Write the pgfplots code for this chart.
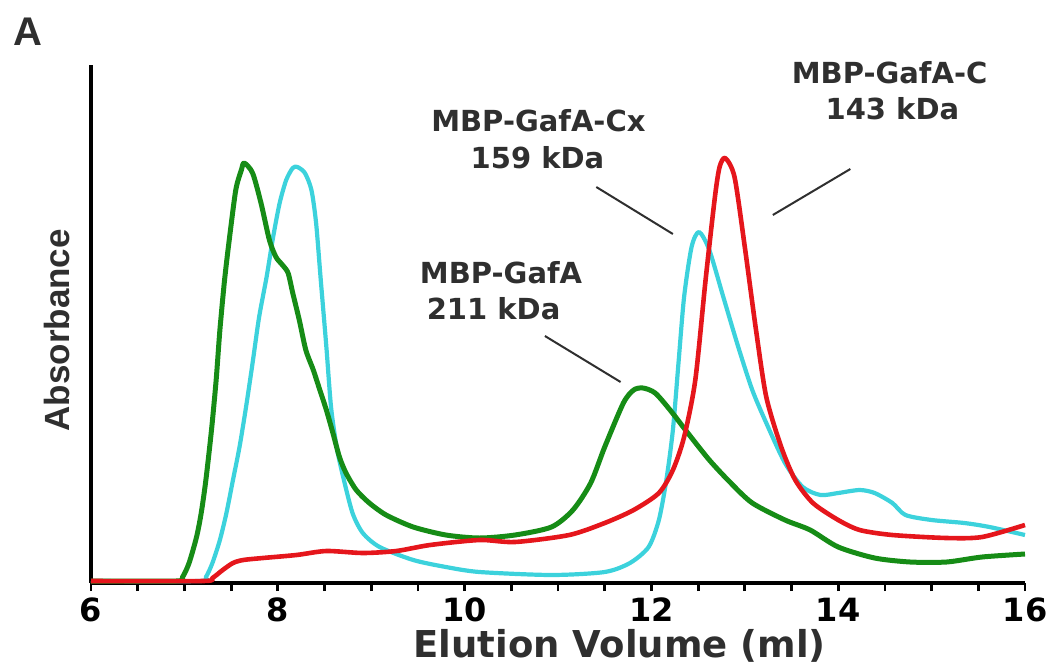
\documentclass[border=0pt]{standalone}
\usepackage{pgfplots}
\pgfplotsset{compat=1.18}
\usepackage{fontspec}
\setmainfont{DejaVu Sans}
\newfontfamily\arialfont{Liberation Sans}

\definecolor{gfGreen}{HTML}{168C16}
\definecolor{gfCyan}{HTML}{3CD2DC}
\definecolor{gfRed}{HTML}{E5161C}
\definecolor{txtGray}{HTML}{2F2F2F}

\begin{document}
\begin{tikzpicture}
  % 1 px of the reference = 0.5pt, axis corner at (0,0)
  \useasboundingbox (-45.5pt,-41.5pt) rectangle (479pt,291.5pt);
  \begin{axis}[
      at={(0,0)}, anchor=south west,
      width=467pt, height=259pt, scale only axis,
      xmin=6, xmax=16, ymin=0, ymax=518,
      axis x line=bottom, axis y line=left,
      axis line style={line width=1.6pt, -},
      xtick={6,8,...,16}, minor x tick num=3, ytick=\empty,
      tick align=outside,
      major tick length=4pt, minor tick length=4pt,
      every tick/.style={line width=1.4pt, black},
      /pgf/number format/assume math mode=true,
      x tick label style={font=\fontsize{16}{16}\selectfont\bfseries},
      clip=false,
      every axis plot/.append style={line width=2.3pt, smooth, tension=0.45, line join=round},
    ]
    \addplot[gfCyan, line width=2.1pt] coordinates {
      (6,2)(7.16,2)(7.23,6)(7.30,20)(7.38,43)(7.45,70)(7.52,103)(7.59,136)(7.66,176)
      (7.73,220)(7.80,266)(7.88,306)(7.95,346)(8.02,380)(8.09,403)(8.16,415)(8.21,416)
      (8.29,410)(8.36,393)(8.41,360)(8.46,303)(8.52,236)(8.57,176)(8.63,136)(8.70,106)
      (8.80,70)(8.91,50)(9.09,36)(9.45,23)(9.80,16)(10.16,11)(10.93,8)(11.50,11)
      (11.77,20)(11.97,36)(12.08,63)(12.16,103)(12.23,153)(12.29,220)(12.35,286)
      (12.43,336)(12.51,351)(12.62,333)(12.77,286)(12.93,236)(13.08,193)(13.23,160)
      (13.43,120)(13.62,96)(13.81,88)(14.00,90)(14.23,93)(14.39,90)(14.58,80)(14.72,68)
      (15.00,63)(15.35,60)(15.62,56)(16.0,48)};
    \addplot[gfGreen, line width=2.5pt] coordinates {
      (6,2)(6.91,2)(6.98,6)(7.05,20)(7.13,46)(7.18,70)(7.23,103)(7.29,153)(7.34,203)
      (7.38,253)(7.43,303)(7.48,343)(7.55,393)(7.61,413)(7.64,420)(7.73,410)(7.82,380)
      (7.91,343)(7.98,326)(8.05,318)(8.11,310)(8.16,290)(8.23,263)(8.30,233)(8.38,213)
      (8.45,193)(8.52,173)(8.59,150)(8.66,126)(8.73,110)(8.84,93)(8.98,80)(9.16,68)
      (9.45,56)(9.80,48)(10.16,45)(10.54,48)(10.93,56)(11.16,73)(11.35,100)(11.50,136)
      (11.70,180)(11.81,193)(11.91,195)(12.04,190)(12.20,173)(12.39,150)(12.62,123)
      (12.85,100)(13.08,80)(13.43,63)(13.70,53)(14.00,36)(14.39,25)(14.77,21)(15.16,21)
      (15.54,26)(16.0,29)};
    \addplot[gfRed] coordinates {
      (6,2)(7.20,2)(7.30,5)(7.41,13)(7.52,20)(7.63,23)(7.84,25)(8.20,28)(8.52,32)
      (8.91,30)(9.27,32)(9.63,38)(10.16,43)(10.54,41)(11.12,48)(11.50,60)(11.81,73)
      (12.08,90)(12.23,113)(12.35,146)(12.47,203)(12.58,303)(12.68,386)(12.73,416)
      (12.79,425)(12.89,406)(13.00,336)(13.12,253)(13.23,186)(13.39,136)(13.54,103)
      (13.73,80)(14.00,63)(14.23,53)(14.58,48)(15.16,45)(15.54,46)(16.0,58)};

    % peak annotations
    \begin{scope}[txtGray, font=\fontsize{14.5}{14.5}\selectfont\bfseries]
      \node at (axis cs:10.39,310) {MBP-GafA};
      \node at (axis cs:10.31,274) {211 kDa};
      \node at (axis cs:10.79,462) {MBP-GafA-Cx};
      \node at (axis cs:10.78,425) {159 kDa};
      \node at (axis cs:14.55,510) {MBP-GafA-C};
      \node at (axis cs:14.58,474) {143 kDa};
    \end{scope}
    \draw[txtGray, line width=1pt] (axis cs:10.86,247) -- (axis cs:11.67,201);
    \draw[txtGray, line width=1pt] (axis cs:11.41,396) -- (axis cs:12.23,349);
    \draw[txtGray, line width=1pt] (axis cs:14.13,414) -- (axis cs:13.30,368);

    \node[txtGray, anchor=base, inner sep=0pt, font=\fontsize{18.5}{18.5}\selectfont\bfseries]
      at (rel axis cs:0.566,0) [yshift=-37pt] {Elution Volume (ml)};
    \node[txtGray, inner sep=0pt, xshift=-10.5pt, rotate=90, anchor=base,
          font=\arialfont\fontsize{17.5}{17.5}\selectfont\bfseries]
      at (rel axis cs:0,0.488) {Absorbance};
  \end{axis}
  \node[anchor=base west, inner sep=0pt, txtGray, font=\arialfont\fontsize{20}{20}\selectfont\bfseries]
    at (-39pt,269pt) {A};
\end{tikzpicture}
\end{document}
